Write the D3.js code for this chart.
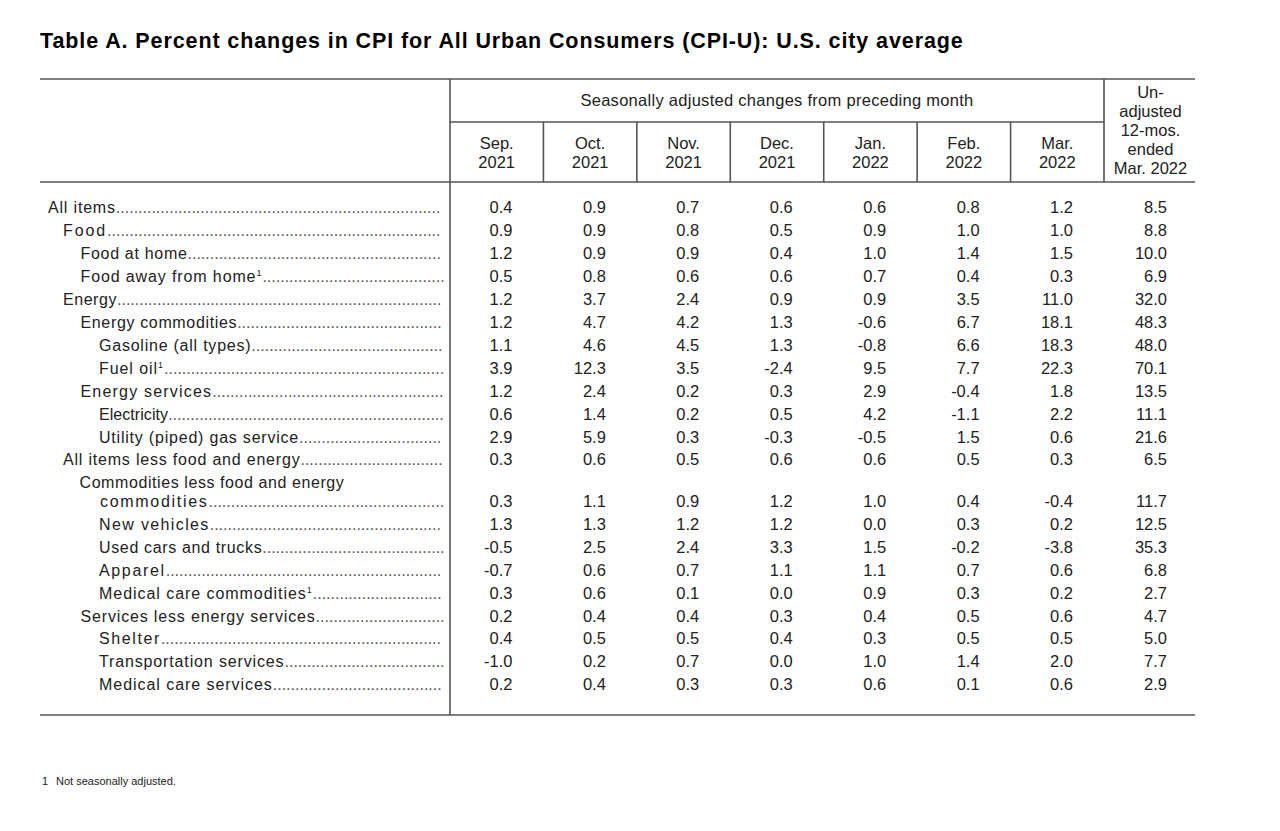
<!DOCTYPE html>
<html><head><meta charset="utf-8">
<script src="https://cdn.jsdelivr.net/npm/d3@7/dist/d3.min.js"></script>
<style>
html,body{margin:0;padding:0;background:#fff;}
svg text{font-family:"Liberation Sans",Arial,sans-serif;fill:#222;}
</style></head>
<body>
<svg id="chart" width="1280" height="831"></svg>
<script>
const title = "Table A. Percent changes in CPI for All Urban Consumers (CPI-U): U.S. city average";
const spanHeader = "Seasonally adjusted changes from preceding month";
const monthHeaders = [["Sep.","2021"],["Oct.","2021"],["Nov.","2021"],["Dec.","2021"],["Jan.","2022"],["Feb.","2022"],["Mar.","2022"]];
const lastHeader = ["Un-","adjusted","12-mos.","ended","Mar. 2022"];
const footnote = "Not seasonally adjusted.";

const categories = [
  "All items","Food","Food at home","Food away from home","Energy","Energy commodities",
  "Gasoline (all types)","Fuel oil","Energy services","Electricity","Utility (piped) gas service",
  "All items less food and energy","Commodities less food and energy|commodities","New vehicles",
  "Used cars and trucks","Apparel","Medical care commodities","Services less energy services",
  "Shelter","Transportation services","Medical care services"
];
const footnoted = [false,false,false,true,false,false,false,true,false,false,false,false,false,false,false,false,true,false,false,false,false];
const levels = [0,1,2,2,1,2,3,3,2,3,3,1,2,3,3,3,3,2,3,3,3];

const sep2021 = [0.4,0.9,1.2,0.5,1.2,1.2,1.1,3.9,1.2,0.6,2.9,0.3,0.3,1.3,-0.5,-0.7,0.3,0.2,0.4,-1.0,0.2];
const oct2021 = [0.9,0.9,0.9,0.8,3.7,4.7,4.6,12.3,2.4,1.4,5.9,0.6,1.1,1.3,2.5,0.6,0.6,0.4,0.5,0.2,0.4];
const nov2021 = [0.7,0.8,0.9,0.6,2.4,4.2,4.5,3.5,0.2,0.2,0.3,0.5,0.9,1.2,2.4,0.7,0.1,0.4,0.5,0.7,0.3];
const dec2021 = [0.6,0.5,0.4,0.6,0.9,1.3,1.3,-2.4,0.3,0.5,-0.3,0.6,1.2,1.2,3.3,1.1,0.0,0.3,0.4,0.0,0.3];
const jan2022 = [0.6,0.9,1.0,0.7,0.9,-0.6,-0.8,9.5,2.9,4.2,-0.5,0.6,1.0,0.0,1.5,1.1,0.9,0.4,0.3,1.0,0.6];
const feb2022 = [0.8,1.0,1.4,0.4,3.5,6.7,6.6,7.7,-0.4,-1.1,1.5,0.5,0.4,0.3,-0.2,0.7,0.3,0.5,0.5,1.4,0.1];
const mar2022 = [1.2,1.0,1.5,0.3,11.0,18.1,18.3,22.3,1.8,2.2,0.6,0.3,-0.4,0.2,-3.8,0.6,0.2,0.6,0.5,2.0,0.6];
const unadj12 = [8.5,8.8,10.0,6.9,32.0,48.3,48.0,70.1,13.5,11.1,21.6,6.5,11.7,12.5,35.3,6.8,2.7,4.7,5.0,7.7,2.9];

const series = [sep2021,oct2021,nov2021,dec2021,jan2022,feb2022,mar2022,unadj12];

// style only: per-row tracking of the stub labels (first line, second line)
const labelTracking = [0.82,1.9,0.69,0.88,0.55,0.65,0.77,0.93,1.2,0.06,0.79,0.8,[0.58,1.7],1.37,0.65,1.65,0.95,0.84,1.6,0.86,0.95];

(function(){
const svg = d3.select("#chart");
const FS = 16, NFS = 16.5;
const lineColor = "#555";
const L = 40, R = 1195, topY = 79, headMid = 122, headBot = 182, bottomY = 715;
const stubRight = 450, monthRight = 1104;

const xMonth = d3.scaleBand().domain(d3.range(7)).range([stubRight, monthRight]);
const colCenter = i => i < 7 ? xMonth(i) + xMonth.bandwidth()/2 : (monthRight + R)/2 + 1;
const colRight = i => i < 7 ? xMonth(i) + xMonth.bandwidth() - 31 : R - 28;

const rowUnits = [];
{ let u = 0; categories.forEach(c => { const extra = c.includes("|") ? 0.8 : 0; u += extra; rowUnits.push(u); u += 1; }); }
const yRow = d3.scaleLinear().domain([0, 1]).range([208, 208 + 22.95]);
const indentX = d3.scaleOrdinal().domain([0,1,2,3]).range([48,63,80.5,99]);

svg.append("text").attr("x", L).attr("y", 48).attr("font-size", 21.5).attr("font-weight", "bold")
  .attr("letter-spacing", 0.9).style("fill", "#000").text(title);

const hline = (x1,x2,y) => svg.append("line").attr("x1",x1).attr("x2",x2).attr("y1",y).attr("y2",y)
  .attr("stroke",lineColor).attr("stroke-width",1.6);
const vline = (x,y1,y2) => svg.append("line").attr("x1",x).attr("x2",x).attr("y1",y1).attr("y2",y2)
  .attr("stroke",lineColor).attr("stroke-width",1.6);
hline(L, R, topY);
hline(stubRight, monthRight, headMid);
hline(L, R, headBot);
hline(L, R, bottomY);
vline(stubRight, topY, bottomY);
vline(monthRight, topY, headBot);
d3.range(1,7).forEach(i => vline(xMonth(i), headMid, headBot));

svg.append("text").attr("x", (stubRight+monthRight)/2).attr("y", 106).attr("text-anchor","middle")
  .attr("font-size", NFS).attr("letter-spacing", 0.28).text(spanHeader);
monthHeaders.forEach((h,i) => {
  h.forEach((t,j) => svg.append("text").attr("x", colCenter(i)).attr("y", 149 + j*19)
    .attr("text-anchor","middle").attr("font-size", NFS).text(t));
});
lastHeader.forEach((t,j) => svg.append("text").attr("x", colCenter(7)).attr("y", 98 + j*19)
  .attr("text-anchor","middle").attr("font-size", NFS).text(t));

const dotEnd = 445;
categories.forEach((c,i) => {
  const parts = c.split("|");
  const tr = Array.isArray(labelTracking[i]) ? labelTracking[i] : [labelTracking[i], labelTracking[i]];
  const yb = yRow(rowUnits[i]) + 5;
  let lastLineX = indentX(levels[i]);
  if (parts.length > 1) {
    svg.append("text").attr("x", indentX(levels[i]) - 1).attr("y", yb - 19).attr("font-size", FS)
      .attr("letter-spacing", tr[0]).text(parts[0]);
    lastLineX = indentX(levels[i] + 1) + 1;
  }
  const t = svg.append("text").attr("x", lastLineX).attr("y", yb).attr("font-size", FS)
    .style("letter-spacing", tr[parts.length > 1 ? 1 : 0] + "px");
  t.append("tspan").text(parts[parts.length-1]);
  if (footnoted[i]) t.append("tspan").attr("font-size", 9).attr("dy", -6).style("letter-spacing", "0px").text("1");
  const bb = t.node().getBBox();
  const startX = bb.x + bb.width + (footnoted[i] ? 1 : 0);
  const dotW = 4.45;
  const n = Math.max(0, Math.floor((dotEnd - startX) / dotW));
  svg.append("text").attr("x", startX).attr("y", yb)
    .attr("font-size", FS).style("fill","#555").text(".".repeat(n));
});

series.forEach((s,ci) => {
  svg.append("g").selectAll("text").data(s).join("text")
    .attr("x", colRight(ci))
    .attr("y", (d,i) => yRow(rowUnits[i]) + 5)
    .attr("text-anchor","end").attr("font-size", NFS)
    .text(d => d3.format(".1f")(d).replace("−","-"));
});

const fn = svg.append("text").attr("y", 785).attr("font-size", 11);
fn.append("tspan").attr("x", 42).text("1");
fn.append("tspan").attr("x", 56).text(footnote);
})();
</script>
</body></html>
